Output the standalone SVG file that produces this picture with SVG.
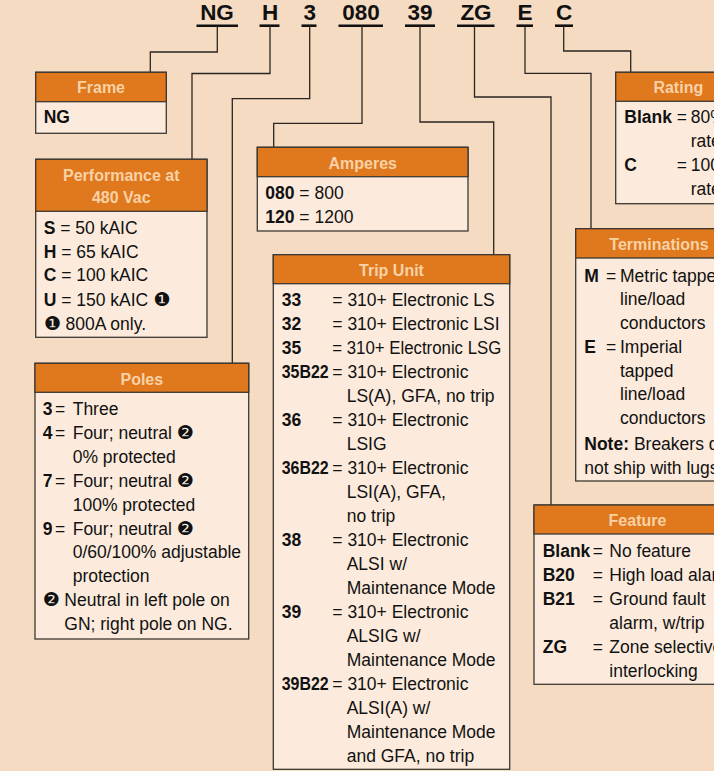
<svg xmlns="http://www.w3.org/2000/svg" width="714" height="771" viewBox="0 0 714 771">
<defs>
<style>
text{font-family:"Liberation Sans",Arial,sans-serif;fill:#111;}
.code{font-size:22.5px;font-weight:bold;text-anchor:middle;}
.ul{stroke:#111;stroke-width:2.6;}
.conn{fill:none;stroke:#2a2520;stroke-width:1.3;}
.box{fill:#fcebdc;stroke:#3d3833;stroke-width:1.3;}
.hdr{fill:#e0781e;stroke:#3d3833;stroke-width:1.3;}
.ttl{font-size:16px;font-weight:bold;fill:#f8d2a6;text-anchor:middle;}
.t{font-size:17.5px;}
.b{font-weight:bold;}
.bc{font-size:17.5px;font-weight:bold;}
.dg{font-family:"DejaVu Sans",sans-serif;font-size:19px;}
</style>
</defs>
<rect x="0" y="0" width="714" height="771" fill="#f5dbc2"/>

<g id="codes">
<text class="code" x="217" y="19.5">NG</text>
<text class="code" x="270" y="19.5">H</text>
<text class="code" x="309.7" y="19.5">3</text>
<text class="code" x="361" y="19.5">080</text>
<text class="code" x="420" y="19.5">39</text>
<text class="code" x="476" y="19.5">ZG</text>
<text class="code" x="525" y="19.5">E</text>
<text class="code" x="564" y="19.5">C</text>
<line class="ul" x1="196.5" y1="25.7" x2="238" y2="25.7"/>
<line class="ul" x1="259.5" y1="25.7" x2="279.5" y2="25.7"/>
<line class="ul" x1="301.5" y1="25.7" x2="316.5" y2="25.7"/>
<line class="ul" x1="338.5" y1="25.7" x2="383" y2="25.7"/>
<line class="ul" x1="405" y1="25.7" x2="435" y2="25.7"/>
<line class="ul" x1="457" y1="25.7" x2="494.5" y2="25.7"/>
<line class="ul" x1="516.5" y1="25.7" x2="533" y2="25.7"/>
<line class="ul" x1="555" y1="25.7" x2="573" y2="25.7"/>
</g>

<g id="connectors">
<polyline class="conn" points="217.3,26 217.3,52 150.3,52 150.3,72.3"/>
<polyline class="conn" points="270,26 270,73.5 192,73.5 192,159.3"/>
<polyline class="conn" points="309.7,26 309.7,98.7 232.3,98.7 232.3,363.3"/>
<polyline class="conn" points="362,26 362,123.3 273.7,123.3 273.7,147.3"/>
<polyline class="conn" points="420,26 420,122 493.7,122 493.7,254.7"/>
<polyline class="conn" points="474.5,26 474.5,97 551,97 551,505"/>
<polyline class="conn" points="525,26 525,73.3 591,73.3 591,228.7"/>
<polyline class="conn" points="563.7,26 563.7,51 630.7,51 630.7,72.3"/>
</g>

<g id="frame">
<rect class="box" x="35.7" y="72.3" width="130.6" height="61"/>
<rect class="hdr" x="35.7" y="72.3" width="130.6" height="29.4"/>
<text class="ttl" x="101" y="93.3">Frame</text>
<text class="t b" x="43.7" y="123.3" font-size="18">NG</text>
</g>

<g id="performance">
<rect class="box" x="35.7" y="159.3" width="171.3" height="178"/>
<rect class="hdr" x="35.7" y="159.3" width="171.3" height="52"/>
<text class="ttl" x="121.3" y="180.7">Performance at</text>
<text class="ttl" x="121.3" y="202.7">480 Vac</text>
<text class="t" x="43.7" y="234"><tspan class="b">S</tspan> = 50 kAIC</text>
<text class="t" x="43.7" y="257.7"><tspan class="b">H</tspan> = 65 kAIC</text>
<text class="t" x="43.7" y="281.3"><tspan class="b">C</tspan> = 100 kAIC</text>
<text class="t" x="43.7" y="305.7"><tspan class="b">U</tspan> = 150 kAIC <tspan class="dg">❶</tspan></text>
<text class="t" x="43.7" y="330"><tspan class="dg">❶</tspan> 800A only.</text>
</g>

<g id="poles">
<rect class="box" x="35" y="363.3" width="213.7" height="275.7"/>
<rect class="hdr" x="35" y="363.3" width="213.7" height="29"/>
<text class="ttl" x="141.8" y="385">Poles</text>
<text class="t b" x="42.7" y="415">3</text><text class="t" x="55" y="415">=</text><text class="t" x="72.7" y="415">Three</text>
<text class="t b" x="42.7" y="438.9">4</text><text class="t" x="55" y="438.9">=</text><text class="t" x="72.7" y="438.9">Four; neutral <tspan class="dg">❷</tspan></text>
<text class="t" x="72.7" y="462.8">0% protected</text>
<text class="t b" x="42.7" y="486.7">7</text><text class="t" x="55" y="486.7">=</text><text class="t" x="72.7" y="486.7">Four; neutral <tspan class="dg">❷</tspan></text>
<text class="t" x="72.7" y="510.6">100% protected</text>
<text class="t b" x="42.7" y="534.5">9</text><text class="t" x="55" y="534.5">=</text><text class="t" x="72.7" y="534.5">Four; neutral <tspan class="dg">❷</tspan></text>
<text class="t" x="72.7" y="558.4">0/60/100% adjustable</text>
<text class="t" x="72.7" y="582.3">protection</text>
<text class="t" x="42.7" y="606.2"><tspan class="dg">❷</tspan></text><text class="t" x="64.3" y="606.2">Neutral in left pole on</text>
<text class="t" x="64.3" y="630.1">GN; right pole on NG.</text>
</g>

<g id="amperes">
<rect class="box" x="257.3" y="147.3" width="210.7" height="83.7"/>
<rect class="hdr" x="257.3" y="147.3" width="210.7" height="29.4"/>
<text class="ttl" x="362.7" y="169.3">Amperes</text>
<text class="t" x="265.3" y="199"><tspan class="b">080</tspan> = 800</text>
<text class="t" x="265.3" y="222.7"><tspan class="b">120</tspan> = 1200</text>
</g>

<g id="tripunit">
<rect class="box" x="273.3" y="254.7" width="236.4" height="514.6"/>
<rect class="hdr" x="273.3" y="254.7" width="236.4" height="29"/>
<text class="ttl" x="391.5" y="276">Trip Unit</text>
<text class="bc" x="281.7" y="305.7">33</text><text class="t" x="332.3" y="305.7">= 310+ Electronic LS</text>
<text class="bc" x="281.7" y="329.7">32</text><text class="t" x="332.3" y="329.7">= 310+ Electronic LSI</text>
<text class="bc" x="281.7" y="353.7">35</text><text class="t" x="332.3" y="353.7" textLength="169" lengthAdjust="spacingAndGlyphs">= 310+ Electronic LSG</text>
<text class="bc" x="281.7" y="377.7" textLength="47" lengthAdjust="spacingAndGlyphs">35B22</text><text class="t" x="332.3" y="377.7">= 310+ Electronic</text>
<text class="t" x="346.7" y="401.7">LS(A), GFA, no trip</text>
<text class="bc" x="281.7" y="425.7">36</text><text class="t" x="332.3" y="425.7">= 310+ Electronic</text>
<text class="t" x="346.7" y="449.7">LSIG</text>
<text class="bc" x="281.7" y="473.7" textLength="47" lengthAdjust="spacingAndGlyphs">36B22</text><text class="t" x="332.3" y="473.7">= 310+ Electronic</text>
<text class="t" x="346.7" y="497.7">LSI(A), GFA,</text>
<text class="t" x="346.7" y="521.7">no trip</text>
<text class="bc" x="281.7" y="545.7">38</text><text class="t" x="332.3" y="545.7">= 310+ Electronic</text>
<text class="t" x="346.7" y="569.7">ALSI w/</text>
<text class="t" x="346.7" y="593.7">Maintenance Mode</text>
<text class="bc" x="281.7" y="617.7">39</text><text class="t" x="332.3" y="617.7">= 310+ Electronic</text>
<text class="t" x="346.7" y="641.7">ALSIG w/</text>
<text class="t" x="346.7" y="665.7">Maintenance Mode</text>
<text class="bc" x="281.7" y="689.7" textLength="47" lengthAdjust="spacingAndGlyphs">39B22</text><text class="t" x="332.3" y="689.7">= 310+ Electronic</text>
<text class="t" x="346.7" y="713.7">ALSI(A) w/</text>
<text class="t" x="346.7" y="737.7">Maintenance Mode</text>
<text class="t" x="346.7" y="761.7">and GFA, no trip</text>
</g>

<g id="rating">
<rect class="box" x="615.7" y="72.3" width="125.3" height="131.4"/>
<rect class="hdr" x="615.7" y="72.3" width="125.3" height="29"/>
<text class="ttl" x="678.3" y="93.3">Rating</text>
<text class="bc" x="624.3" y="123.3">Blank</text><text class="t" x="676.7" y="123.3">=</text><text class="t" x="690.7" y="123.3">80%</text>
<text class="t" x="690.7" y="147.3">rated</text>
<text class="bc" x="624.3" y="171.2">C</text><text class="t" x="676.7" y="171.2">=</text><text class="t" x="690.7" y="171.2">100%</text>
<text class="t" x="690.7" y="195">rated</text>
</g>

<g id="terminations">
<rect class="box" x="575.7" y="228.7" width="166.3" height="252.3"/>
<rect class="hdr" x="575.7" y="228.7" width="166.3" height="29.3"/>
<text class="ttl" x="659" y="250">Terminations</text>
<text class="bc" x="584.3" y="281.7">M</text><text class="t" x="606" y="281.7">=</text><text class="t" x="620" y="281.7">Metric tapped</text>
<text class="t" x="620" y="305.4">line/load</text>
<text class="t" x="620" y="329.1">conductors</text>
<text class="bc" x="584.3" y="352.8">E</text><text class="t" x="606" y="352.8">=</text><text class="t" x="620" y="352.8">Imperial</text>
<text class="t" x="620" y="376.5">tapped</text>
<text class="t" x="620" y="400.2">line/load</text>
<text class="t" x="620" y="423.9">conductors</text>
<text class="t" x="584.3" y="450.3"><tspan class="b">Note:</tspan> Breakers do</text>
<text class="t" x="584.3" y="473.5">not ship with lugs.</text>
</g>

<g id="feature">
<rect class="box" x="534" y="505" width="207" height="179.3"/>
<rect class="hdr" x="534" y="505" width="207" height="29"/>
<text class="ttl" x="637.5" y="526">Feature</text>
<text class="bc" x="542.7" y="556.7">Blank</text><text class="t" x="592.7" y="556.7">=</text><text class="t" x="609.3" y="556.7">No feature</text>
<text class="bc" x="542.7" y="581">B20</text><text class="t" x="592.7" y="581">=</text><text class="t" x="609.3" y="581">High load alarm</text>
<text class="bc" x="542.7" y="605">B21</text><text class="t" x="592.7" y="605">=</text><text class="t" x="609.3" y="605">Ground fault</text>
<text class="t" x="609.3" y="629">alarm, w/trip</text>
<text class="bc" x="542.7" y="653.3">ZG</text><text class="t" x="592.7" y="653.3">=</text><text class="t" x="609.3" y="653.3">Zone selective</text>
<text class="t" x="609.3" y="676.7">interlocking</text>
</g>
</svg>
